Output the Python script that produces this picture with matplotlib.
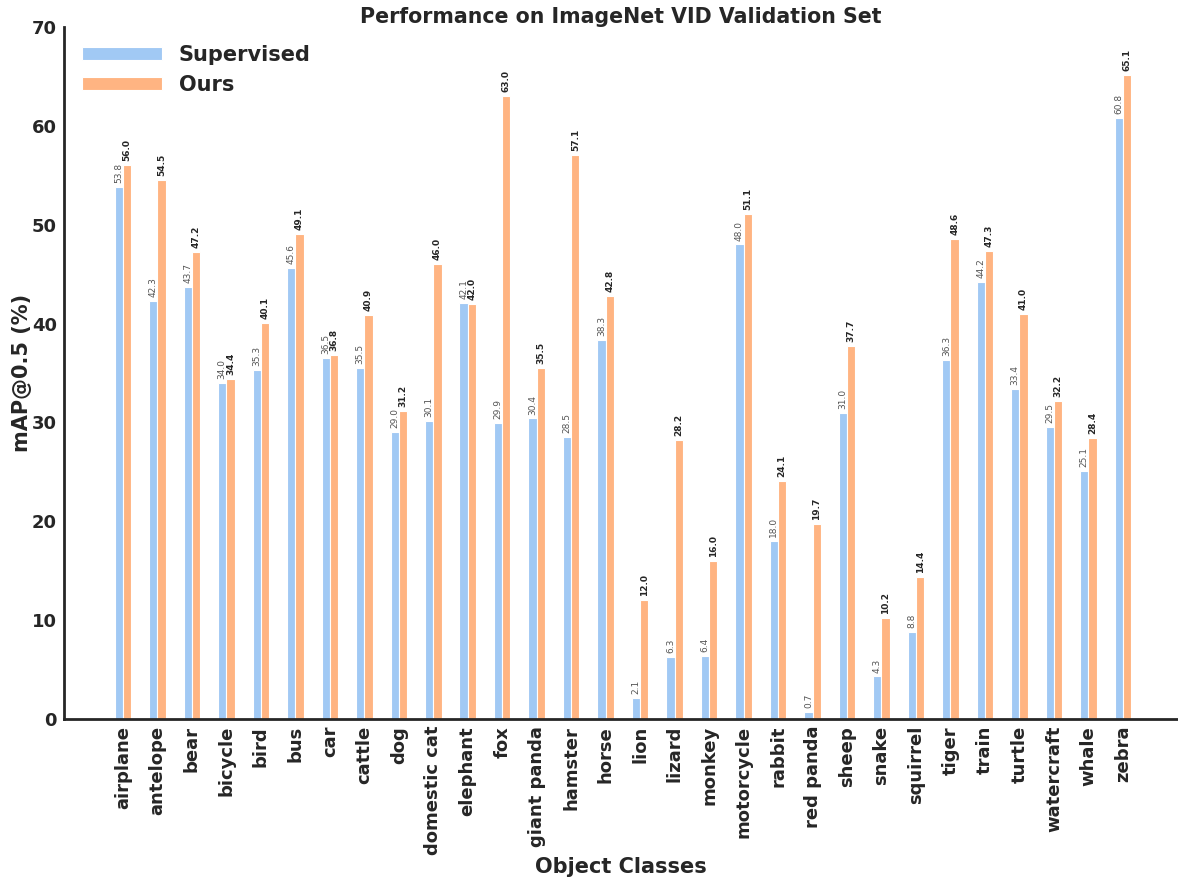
import numpy as np
import matplotlib.pyplot as plt

classes = ['airplane', 'antelope', 'bear', 'bicycle', 'bird', 'bus', 'car', 'cattle',
           'dog', 'domestic cat', 'elephant', 'fox', 'giant panda', 'hamster', 'horse',
           'lion', 'lizard', 'monkey', 'motorcycle', 'rabbit', 'red panda', 'sheep',
           'snake', 'squirrel', 'tiger', 'train', 'turtle', 'watercraft', 'whale', 'zebra']
supervised = [53.8, 42.3, 43.7, 34.0, 35.3, 45.6, 36.5, 35.5, 29.0, 30.1, 42.1, 29.9,
              30.4, 28.5, 38.3, 2.1, 6.3, 6.4, 48.0, 18.0, 0.7, 31.0, 4.3, 8.8, 36.3,
              44.2, 33.4, 29.5, 25.1, 60.8]
ours = [56.0, 54.5, 47.2, 34.4, 40.1, 49.1, 36.8, 40.9, 31.2, 46.0, 42.0, 63.0, 35.5,
        57.1, 42.8, 12.0, 28.2, 16.0, 51.1, 24.1, 19.7, 37.7, 10.2, 14.4, 48.6, 47.3,
        41.0, 32.2, 28.4, 65.1]

dark = '#262626'
blue = '#a1c9f4'
orange = '#ffb482'

fig = plt.figure(figsize=(11.78, 8.86), dpi=100)
ax = fig.add_axes([64/1178, 1 - 719/886, (1178 - 64)/1178, (719 - 27)/886])

x = np.arange(len(classes))
w = 0.24
b1 = ax.bar(x - w/2, supervised, w, color=blue, edgecolor='white', linewidth=0.8, label='Supervised')
b2 = ax.bar(x + w/2, ours, w, color=orange, edgecolor='white', linewidth=0.8, label='Ours')

# value labels above the bars
for r, v in zip(b1, supervised):
    ax.text(r.get_x() + r.get_width()/2, v + 0.4, f'{v:.1f}', rotation=90, ha='center',
            va='bottom', fontsize=6.5, color='#555555')
for r, v in zip(b2, ours):
    ax.text(r.get_x() + r.get_width()/2, v + 0.4, f'{v:.1f}', rotation=90, ha='center',
            va='bottom', fontsize=6.5, color=dark, fontweight='bold')

ax.set_xlim(-1.71, 29 + 1.6)
ax.set_ylim(0, 70)
ax.set_xticks(x)
ax.set_xticklabels(classes, rotation=90, fontsize=13, fontweight='bold', color=dark)
ax.set_yticks(range(0, 71, 10))
ax.set_yticklabels([str(t) for t in range(0, 71, 10)], fontsize=13, fontweight='bold', color=dark)
ax.tick_params(length=0, pad=5)

for s in ['top', 'right']:
    ax.spines[s].set_visible(False)
for s in ['left', 'bottom']:
    ax.spines[s].set_linewidth(2)
    ax.spines[s].set_color(dark)

ax.set_ylabel('mAP@0.5 (%)', fontsize=15, fontweight='bold', color=dark)
ax.yaxis.set_label_coords(-0.029, 0.5)
ax.set_xlabel('Object Classes', fontsize=15, fontweight='bold', color=dark)
ax.xaxis.set_label_coords(0.5, -0.2)
ax.set_title('Performance on ImageNet VID Validation Set', fontsize=14.8, fontweight='bold',
             color=dark, pad=1)

leg = ax.legend(loc='upper left', frameon=False, prop={'size': 15, 'weight': 'bold'},
                handlelength=3.85, handleheight=0.6, borderaxespad=0.45)
for t in leg.get_texts():
    t.set_color(dark)

fig.savefig('out.png', dpi=100)
